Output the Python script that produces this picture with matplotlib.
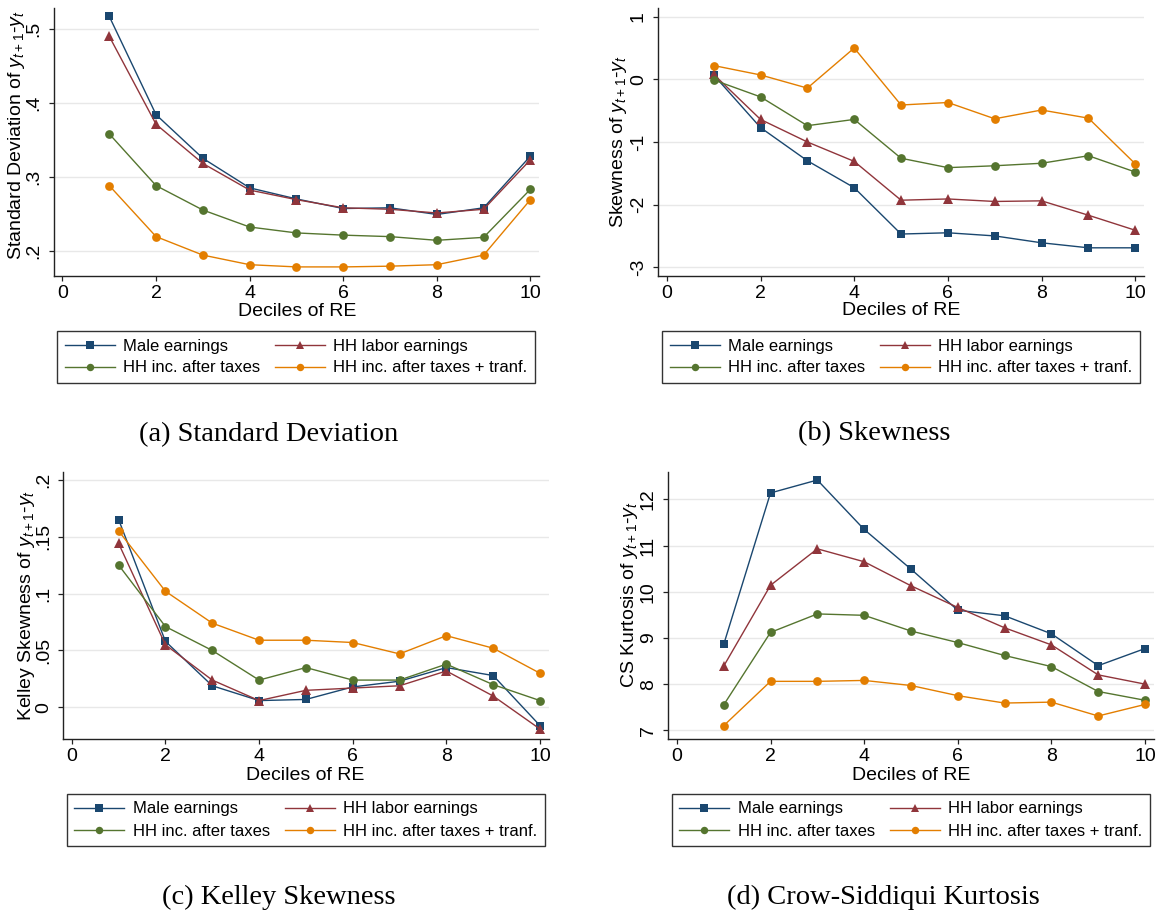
import matplotlib
matplotlib.use("Agg")
import matplotlib.pyplot as plt
from matplotlib.lines import Line2D

plt.rcParams['font.family'] = ['Liberation Sans', 'DejaVu Sans']
plt.rcParams['mathtext.fontset'] = 'custom'
plt.rcParams['mathtext.rm'] = 'Liberation Sans'
plt.rcParams['mathtext.it'] = 'Liberation Sans:italic'

# data
deciles = [1, 2, 3, 4, 5, 6, 7, 8, 9, 10]
series_names = ["Male earnings", "HH labor earnings",
                "HH inc. after taxes", "HH inc. after taxes + tranf."]

sd_male = [0.517, 0.384, 0.325, 0.285, 0.270, 0.257, 0.258, 0.249, 0.258, 0.328]
sd_labor = [0.490, 0.371, 0.318, 0.282, 0.269, 0.258, 0.256, 0.251, 0.256, 0.323]
sd_after_tax = [0.358, 0.288, 0.255, 0.232, 0.224, 0.221, 0.219, 0.214, 0.218, 0.283]
sd_transfers = [0.288, 0.219, 0.194, 0.181, 0.178, 0.178, 0.179, 0.181, 0.194, 0.269]

skew_male = [0.07, -0.77, -1.30, -1.73, -2.47, -2.45, -2.50, -2.61, -2.69, -2.69]
skew_labor = [0.08, -0.64, -1.00, -1.31, -1.93, -1.91, -1.95, -1.94, -2.17, -2.41]
skew_after_tax = [-0.01, -0.28, -0.74, -0.64, -1.26, -1.41, -1.38, -1.34, -1.22, -1.48]
skew_transfers = [0.22, 0.07, -0.14, 0.50, -0.41, -0.37, -0.63, -0.49, -0.62, -1.35]

kelley_male = [0.165, 0.058, 0.019, 0.006, 0.007, 0.018, 0.023, 0.035, 0.028, -0.016]
kelley_labor = [0.144, 0.055, 0.024, 0.006, 0.015, 0.017, 0.019, 0.032, 0.010, -0.019]
kelley_after_tax = [0.125, 0.071, 0.050, 0.024, 0.035, 0.024, 0.024, 0.038, 0.020, 0.006]
kelley_transfers = [0.155, 0.102, 0.074, 0.059, 0.059, 0.057, 0.047, 0.063, 0.052, 0.030]

kurt_male = [8.86, 12.14, 12.42, 11.35, 10.49, 9.60, 9.48, 9.09, 8.40, 8.77]
kurt_labor = [8.39, 10.14, 10.93, 10.65, 10.13, 9.66, 9.22, 8.85, 8.20, 8.00]
kurt_after_tax = [7.55, 9.12, 9.52, 9.49, 9.15, 8.90, 8.62, 8.38, 7.84, 7.65]
kurt_transfers = [7.10, 8.06, 8.06, 8.08, 7.97, 7.75, 7.59, 7.61, 7.31, 7.56]

xticks = [0, 2, 4, 6, 8, 10]
sd_yticks = [0.2, 0.3, 0.4, 0.5]
sd_ylabels = [".2", ".3", ".4", ".5"]
skew_yticks = [-3, -2, -1, 0, 1]
skew_ylabels = ["-3", "-2", "-1", "0", "1"]
kelley_yticks = [0, 0.05, 0.1, 0.15, 0.2]
kelley_ylabels = ["0", ".05", ".1", ".15", ".2"]
kurt_yticks = [7, 8, 9, 10, 11, 12]
kurt_ylabels = ["7", "8", "9", "10", "11", "12"]

colors = ['#1a476f', '#90353b', '#55752f', '#e37e00']
markers = ['s', '^', 'o', 'o']
msizes = [6.3, 7.3, 6.3, 6.3]

W, H = 1156, 915
fig = plt.figure(figsize=(W / 100, H / 100), dpi=100)


def fx(px):
    return px / W


def fy(py):
    return 1 - py / H


def panel(box, series, yticks, ylabels, ylim, ylabel, ylab_pos, xlab_pos, leg_pos, caption, cap_pos):
    x0, y0, x1, y1 = box
    ax = fig.add_axes([fx(x0), fy(y1), fx(x1 - x0), (y1 - y0) / H])
    for i, vals in enumerate(series):
        ax.plot(deciles, vals, color=colors[i], marker=markers[i], ms=msizes[i],
                mew=0, lw=1.0, zorder=3 + i)
    ax.set_xlim(-0.19, 10.19)
    ax.set_ylim(*ylim)
    ax.set_xticks(xticks)
    ax.set_yticks(yticks, ylabels)
    ax.grid(axis='y', color='#e8e8e8', lw=1.0, zorder=0)
    ax.set_axisbelow(True)
    for s in ['top', 'right']:
        ax.spines[s].set_visible(False)
    for s in ['left', 'bottom']:
        ax.spines[s].set_color('#222222')
        ax.spines[s].set_linewidth(1.0)
    ax.tick_params(axis='both', labelsize=14, length=3.5, width=0.9,
                   color='#222222', direction='out')
    ax.tick_params(axis='y', pad=4.5)
    ax.tick_params(axis='x', pad=3)
    for t in ax.get_yticklabels():
        t.set_rotation(90)
        t.set_va('center')

    ax.set_ylabel(ylabel, fontsize=14)
    ax.yaxis.set_label_coords(fx(ylab_pos[0]), fy(ylab_pos[1]), transform=fig.transFigure)
    ax.yaxis.label.set_va('baseline')
    ax.set_xlabel("Deciles of RE", fontsize=14)
    ax.xaxis.set_label_coords(fx(xlab_pos[0]), fy(xlab_pos[1]), transform=fig.transFigure)
    ax.xaxis.label.set_va('center')

    handles = [Line2D([], [], color=colors[i], marker=markers[i],
                      ms=msizes[i] * 0.85, mew=0, lw=1.0) for i in range(4)]
    order = [0, 2, 1, 3]
    leg = ax.legend([handles[i] for i in order], [series_names[i] for i in order],
                    ncol=2, loc='center', bbox_to_anchor=(fx(leg_pos[0]), fy(leg_pos[1])),
                    bbox_transform=fig.transFigure, fontsize=12, frameon=True,
                    fancybox=False, edgecolor='black', handlelength=3.0,
                    handletextpad=0.5, columnspacing=0.9, labelspacing=0.42,
                    borderpad=0.45, borderaxespad=0)
    leg.get_frame().set_linewidth(1.0)

    fig.text(fx(cap_pos[0]), fy(cap_pos[1]), caption, family='Liberation Serif',
             fontsize=20.5, ha='center', va='center')
    return ax


panel((53.6, 8.3, 539.3, 276),
      [sd_male, sd_labor, sd_after_tax, sd_transfers],
      sd_yticks, sd_ylabels, (0.1657, 0.528),
      r"Standard Deviation of $y_{t+1}$-$y_t$", (21.5, 135), (296.7, 311.5), (296, 357),
      "(a) Standard Deviation", (268.8, 435))

panel((657.9, 8.3, 1144.2, 276),
      [skew_male, skew_labor, skew_after_tax, skew_transfers],
      skew_yticks, skew_ylabels, (-3.14, 1.134),
      r"Skewness of $y_{t+1}$-$y_t$", (623, 142), (901, 310.5), (901, 357),
      "(b) Skewness", (873.7, 434))

panel((62.9, 471.7, 548.9, 739.3),
      [kelley_male, kelley_labor, kelley_after_tax, kelley_transfers],
      kelley_yticks, kelley_ylabels, (-0.028, 0.207),
      r"Kelley Skewness of $y_{t+1}$-$y_t$", (31, 605), (305, 775), (305.7, 820),
      "(c) Kelley Skewness", (279, 897))

panel((668, 471.7, 1153.9, 739.3),
      [kurt_male, kurt_labor, kurt_after_tax, kurt_transfers],
      kurt_yticks, kurt_ylabels, (6.805, 12.6),
      r"CS Kurtosis of $y_{t+1}$-$y_t$", (634, 595), (910.7, 775), (910.7, 820),
      "(d) Crow-Siddiqui Kurtosis", (883.3, 897))

fig.savefig("out.png", dpi=100, facecolor='white')
